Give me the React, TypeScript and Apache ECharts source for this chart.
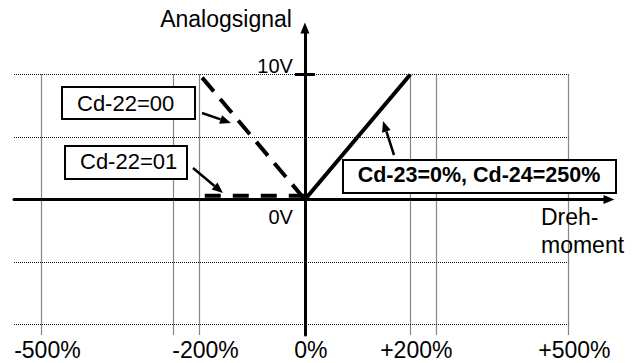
import React, { useEffect, useRef } from "react";
import * as echarts from "echarts";

const FONT = "'Liberation Sans', Arial, Helvetica, sans-serif";

// ---- data ----
const curveCd23: number[][] = [[0, 0], [200, 10]]; // Cd-23=0%, Cd-24=250%
const curveCd22_00: number[][] = [[-195, 9.75], [0, 0]];
const curveCd22_01: number[][] = [[-190, 0.3], [0, 0.3]];

const xTickValues = [-500, -200, 0, 200, 500];
const xTickLabels = ["-500%", "-200%", "0%", "+200%", "+500%"];
const yTickValues = [0, 10];
const yTickLabels = ["0V", "10V"];
const xGridValues = [-500, -250, -200, 200, 250, 500];
const yGridValues = [-10, -5, 5, 10];

const xAxisName = "Dreh-\nmoment";
const yAxisName = "Analogsignal";
const boxLabels = ["Cd-22=00", "Cd-22=01", "Cd-23=0%, Cd-24=250%"];

// axis extents
const X_MIN = -552;
const X_MAX = 577;
const Y_MIN = -10.84;
const Y_MAX = 13.72;
const GRID_LEFT = 14;

function arrow(from: number[], to: number[], len = 11, half = 4.5) {
  const dx = to[0] - from[0];
  const dy = to[1] - from[1];
  const d = Math.hypot(dx, dy);
  const ux = dx / d, uy = dy / d;
  const bx = to[0] - ux * len, by = to[1] - uy * len;
  const nx = -uy, ny = ux;
  return [
    {
      type: "line", z: 100,
      shape: { x1: from[0], y1: from[1], x2: bx, y2: by },
      style: { stroke: "#000", lineWidth: 2.5 },
    },
    {
      type: "polygon", z: 100,
      shape: { points: [[to[0], to[1]], [bx + nx * half, by + ny * half], [bx - nx * half, by - ny * half]] },
      style: { fill: "#000" },
    },
  ];
}

export default function App() {
  const ref = useRef<HTMLDivElement>(null);

  useEffect(() => {
    const chart = echarts.init(ref.current!, null, { renderer: "svg" });
    const gridMarks = [
      ...yGridValues.map((v) => [{ coord: [X_MIN, v] }, { coord: [xGridValues[xGridValues.length - 1], v] }]),
      ...xGridValues.map((v) => [{ coord: [v, yGridValues[yGridValues.length - 1]] }, { coord: [v, Y_MIN] }]),
    ];
    const yLabelAxis = (offset: number) => ({
      type: "value", min: Y_MIN, max: Y_MAX, position: "left", offset,
      axisLine: { show: false, onZero: false }, axisTick: { show: false }, splitLine: { show: false },
      axisLabel: {
        customValues: yTickValues,
        formatter: (v: number) => {
          const i = yTickValues.indexOf(v);
          if (i < 0) return "";
          return (v > 0 ? "{up|" : "{down|") + yTickLabels[i] + "}";
        },
        margin: 12, color: "#000",
        rich: {
          up: { fontSize: 20, fontFamily: FONT, color: "#000", padding: [0, 0, 17, 0] },
          down: { fontSize: 20, fontFamily: FONT, color: "#000", padding: [34, 0, 0, 0] },
        },
      },
    });
    chart.setOption({
      animation: false,
      backgroundColor: "#fff",
      grid: { left: GRID_LEFT, right: 28, top: 28, bottom: 28, containLabel: false, outerBoundsMode: "none" },
      xAxis: [
        {
          type: "value", min: X_MIN, max: X_MAX,
          axisLine: { onZero: true, lineStyle: { color: "#000", width: 3 }, symbol: ["none", "triangle"], symbolSize: [9, 11] },
          axisTick: { show: false }, axisLabel: { show: false }, splitLine: { show: false },
          name: xAxisName, nameLocation: "end", nameGap: -68,
          nameTextStyle: { fontSize: 23, lineHeight: 28, fontFamily: FONT, color: "#000", align: "left", verticalAlign: "top", padding: [3, 0, 0, 0] },
        },
        {
          type: "value", min: X_MIN, max: X_MAX, position: "bottom",
          axisLine: { show: false, onZero: false }, axisTick: { show: false }, splitLine: { show: false },
          axisLabel: {
            customValues: xTickValues,
            formatter: (v: number) => { const i = xTickValues.indexOf(v); return i >= 0 ? xTickLabels[i] : ""; },
            fontSize: 23, fontFamily: FONT, color: "#000", margin: 3, padding: [0, 0, 0, 12],
          },
        },
      ],
      yAxis: [
        {
          type: "value", min: Y_MIN, max: Y_MAX,
          axisLine: { onZero: true, lineStyle: { color: "#000", width: 3 }, symbol: ["none", "triangle"], symbolSize: [9, 11] },
          axisTick: { show: false }, splitLine: { show: false }, axisLabel: { show: false },
          name: yAxisName, nameLocation: "end", nameGap: 9,
          nameTextStyle: { fontSize: 23, fontFamily: FONT, color: "#000", align: "right", verticalAlign: "middle", padding: [0, 13, 0, 0] },
        },
        yLabelAxis(0),
      ],
      series: [
        {
          name: "grid", type: "line", data: [[0, 0]], showSymbol: false, symbol: "none", z: 1,
          lineStyle: { width: 0 }, silent: true,
          markLine: {
            silent: true, symbol: ["none", "none"], label: { show: false }, animation: false,
            lineStyle: { color: "#111", width: 1.2, type: [1, 1] },
            emphasis: { disabled: true },
            data: gridMarks,
          },
        },
        { name: boxLabels[2], type: "line", data: curveCd23, symbol: "none", z: 3, lineStyle: { color: "#000", width: 4 } },
        { name: boxLabels[0], type: "line", data: curveCd22_00, symbol: "none", z: 3, lineStyle: { color: "#000", width: 4, type: [18, 10] } },
        { name: boxLabels[1], type: "line", data: curveCd22_01, symbol: "none", z: 3, lineStyle: { color: "#000", width: 4, type: [16, 12] } },
      ],
    });

    const p0 = chart.convertToPixel({ xAxisIndex: 0, yAxisIndex: 0 }, [0, 0]) as number[];
    const p10 = chart.convertToPixel({ xAxisIndex: 0, yAxisIndex: 0 }, [0, yTickValues[1]]) as number[];
    const boxes = [
      { x: 62, y: 87, w: 133, h: 32, tx: 77, ty: 103.5, align: "left", bold: false, size: 22 },
      { x: 65, y: 146, w: 122, h: 33, tx: 80, ty: 161.5, align: "left", bold: false, size: 22 },
      { x: 343, y: 160, w: 273, h: 33, tx: 479, ty: 175, align: "center", bold: true, size: 21.5 },
    ];
    const graphic: any[] = [
      {
        type: "line", z: 100,
        shape: { x1: p10[0] - 10, y1: p10[1], x2: p10[0] + 10, y2: p10[1] },
        style: { stroke: "#000", lineWidth: 3 },
      },
    ];
    boxes.forEach((b, i) => {
      graphic.push({
        type: "rect", z: 100,
        shape: { x: b.x, y: b.y, width: b.w, height: b.h },
        style: { fill: "#fff", stroke: "#000", lineWidth: 2 },
      });
      graphic.push({
        type: "text", z: 101, x: b.tx, y: b.ty,
        style: {
          text: boxLabels[i], fontSize: b.size, fontFamily: FONT, fontWeight: b.bold ? "bold" : "normal",
          fill: "#000", align: b.align, verticalAlign: "middle",
        },
      });
    });
    graphic.push(...arrow([202, 113], [231, 123]));
    graphic.push(...arrow([193, 168], [223, 193]));
    graphic.push(...arrow([394, 155], [383, 121]));
    chart.setOption({
      yAxis: [{}, { offset: -(p0[0] - GRID_LEFT) }],
      graphic,
    });

    return () => chart.dispose();
  }, []);

  return (
    <div
      ref={ref}
      style={{ position: "fixed", left: 0, top: 0, width: 637, height: 363, background: "#fff" }}
    />
  );
}
